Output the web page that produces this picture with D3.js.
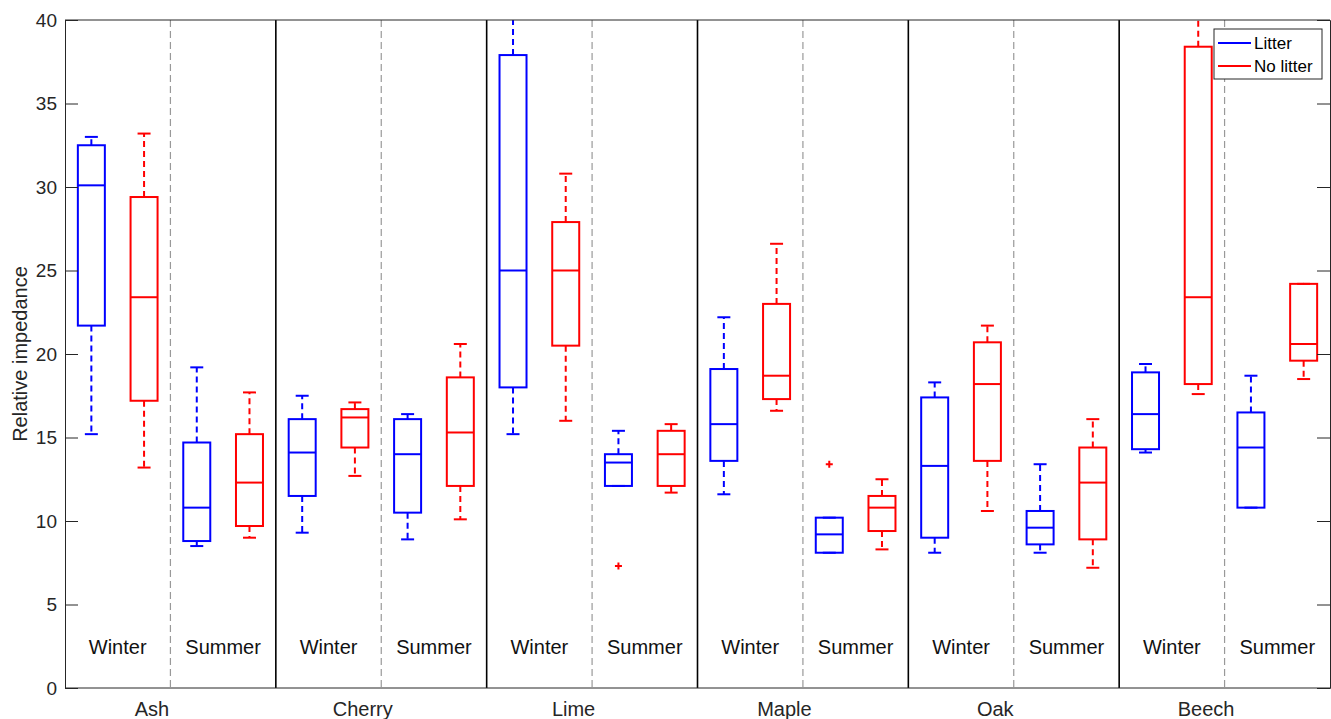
<!DOCTYPE html>
<html>
<head>
<meta charset="utf-8">
<script src="https://cdn.jsdelivr.net/npm/d3@7"></script>
<style>
  body { margin: 0; background: #fff; }
  text { font-family: "Liberation Sans", Arial, Helvetica, sans-serif; }
</style>
</head>
<body>
<svg id="chart" width="1331" height="719"></svg>
<script>
// data
const species = ['Ash', 'Cherry', 'Lime', 'Maple', 'Oak', 'Beech'];
const seasons = ['Winter', 'Summer'];
const treatments = ['Litter', 'No litter'];
const colors = ['#0000ff', '#ff0000'];
const yTicks = [0, 5, 10, 15, 20, 25, 30, 35, 40];

// box stats, order: species -> season -> treatment (Litter, No litter)
const whiskerLow = [15.2, 13.2, 8.5, 9.0,   9.3, 12.7, 8.9, 10.1,   15.2, 16.0, 12.1, 11.7,
                    11.6, 16.6, 8.1, 8.3,   8.1, 10.6, 8.1, 7.2,    14.1, 17.6, 10.8, 18.5];
const q1         = [21.7, 17.2, 8.8, 9.7,   11.5, 14.4, 10.5, 12.1, 18.0, 20.5, 12.1, 12.1,
                    13.6, 17.3, 8.1, 9.4,   9.0, 13.6, 8.6, 8.9,    14.3, 18.2, 10.8, 19.6];
const median     = [30.1, 23.4, 10.8, 12.3, 14.1, 16.2, 14.0, 15.3, 25.0, 25.0, 13.5, 14.0,
                    15.8, 18.7, 9.2, 10.8,  13.3, 18.2, 9.6, 12.3,  16.4, 23.4, 14.4, 20.6];
const q3         = [32.5, 29.4, 14.7, 15.2, 16.1, 16.7, 16.1, 18.6, 37.9, 27.9, 14.0, 15.4,
                    19.1, 23.0, 10.2, 11.5, 17.4, 20.7, 10.6, 14.4, 18.9, 38.4, 16.5, 24.2];
const whiskerHigh= [33.0, 33.2, 19.2, 17.7, 17.5, 17.1, 16.4, 20.6, 41.0, 30.8, 15.4, 15.8,
                    22.2, 26.6, 10.2, 12.5, 18.3, 21.7, 13.4, 16.1, 19.4, 41.0, 18.7, 24.2];
// [box index, value]
const outliers = [[10, 7.3], [14, 13.4]];

const svg = d3.select('#chart');
const margin = {left: 65, right: 1, top: 20, bottom: 31};
const W = 1331, H = 719;
const axisColor = '#262626';

const boxIds = d3.range(species.length * seasons.length * treatments.length);
const x = d3.scaleBand().domain(boxIds).range([margin.left, W - margin.right]).padding(0);
const y = d3.scaleLinear().domain([0, 40]).range([H - margin.bottom, margin.top]);
const step = x.bandwidth();
const boxW = 27, capW = 13;
const perGroup = seasons.length * treatments.length;

svg.append('defs').append('clipPath').attr('id', 'clip')
  .append('rect')
  .attr('x', margin.left).attr('y', margin.top)
  .attr('width', W - margin.right - margin.left)
  .attr('height', y(0) - y(40));

// season separators (dashed) and species separators (solid)
species.forEach((s, i) => {
  const gx = x(i * perGroup);
  const sx = x(i * perGroup + treatments.length);
  svg.append('line')
    .attr('x1', sx).attr('x2', sx).attr('y1', y(40)).attr('y2', y(0))
    .attr('stroke', '#999').attr('stroke-width', 1.2).attr('stroke-dasharray', '7,4');
  if (i > 0) {
    svg.append('line')
      .attr('x1', gx).attr('x2', gx).attr('y1', y(40)).attr('y2', y(0))
      .attr('stroke', '#000').attr('stroke-width', 1.6);
  }
  seasons.forEach((season, j) => {
    const cx = x(i * perGroup + j * treatments.length) + step;
    svg.append('text')
      .attr('x', cx).attr('y', 654)
      .attr('text-anchor', 'middle').attr('font-size', 20).attr('fill', '#111')
      .text(season);
  });
  // species label
  svg.append('text')
    .attr('x', sx - 18.5).attr('y', 716)
    .attr('text-anchor', 'middle').attr('font-size', 20).attr('fill', axisColor)
    .text(s);
});

// boxes
const plot = svg.append('g').attr('clip-path', 'url(#clip)');
boxIds.forEach(k => {
  const c = colors[k % treatments.length];
  const cx = x(k) + step / 2;
  const g = plot.append('g').attr('stroke', c).attr('stroke-width', 2).attr('fill', 'none');
  // whiskers
  g.append('line').attr('x1', cx).attr('x2', cx).attr('y1', y(q3[k])).attr('y2', y(whiskerHigh[k]))
    .attr('stroke-dasharray', '6,4');
  g.append('line').attr('x1', cx).attr('x2', cx).attr('y1', y(q1[k])).attr('y2', y(whiskerLow[k]))
    .attr('stroke-dasharray', '6,4');
  // caps
  [whiskerLow[k], whiskerHigh[k]].forEach(v => {
    g.append('line').attr('x1', cx - capW / 2).attr('x2', cx + capW / 2)
      .attr('y1', y(v)).attr('y2', y(v));
  });
  // box
  g.append('rect')
    .attr('x', cx - boxW / 2).attr('width', boxW)
    .attr('y', y(q3[k])).attr('height', y(q1[k]) - y(q3[k]));
  // median
  g.append('line').attr('x1', cx - boxW / 2).attr('x2', cx + boxW / 2)
    .attr('y1', y(median[k])).attr('y2', y(median[k]));
});

// outliers, red plus signs
outliers.forEach(([k, v]) => {
  const cx = x(k) + step / 2, cy = y(v);
  plot.append('path')
    .attr('d', `M${cx - 3.5},${cy}H${cx + 3.5}M${cx},${cy - 3.5}V${cy + 3.5}`)
    .attr('stroke', '#ff0000').attr('stroke-width', 2);
});

// axes
const left = svg.append('g').attr('transform', `translate(${margin.left},0)`)
  .call(d3.axisLeft(y).tickValues(yTicks).tickSize(-13).tickPadding(8));
const right = svg.append('g').attr('transform', `translate(${W - margin.right},0)`)
  .call(d3.axisRight(y).tickValues(yTicks).tickSize(-13).tickFormat(''));
[left, right].forEach(a => {
  a.select('.domain').attr('stroke', axisColor).attr('stroke-width', 1);
  a.selectAll('.tick line').attr('stroke', axisColor).attr('stroke-width', 1);
});
left.selectAll('.tick text').attr('font-size', 19).attr('fill', axisColor)
  .attr('font-family', '"Liberation Sans", Arial, sans-serif');
svg.append('line').attr('x1', margin.left).attr('x2', W - margin.right)
  .attr('y1', y(40)).attr('y2', y(40)).attr('stroke', axisColor);
svg.append('line').attr('x1', margin.left).attr('x2', W - margin.right)
  .attr('y1', y(0)).attr('y2', y(0)).attr('stroke', axisColor);

// y label
svg.append('text')
  .attr('transform', `translate(27,${(y(0) + y(40)) / 2}) rotate(-90)`)
  .attr('text-anchor', 'middle').attr('font-size', 20).attr('fill', axisColor)
  .text('Relative impedance');

// legend
const lg = svg.append('g').attr('transform', 'translate(1214,29)');
lg.append('rect').attr('width', 108).attr('height', 50)
  .attr('fill', '#fff').attr('stroke', axisColor).attr('stroke-width', 1);
treatments.forEach((t, i) => {
  const ly = 14 + i * 23;
  lg.append('line').attr('x1', 4).attr('x2', 37).attr('y1', ly).attr('y2', ly)
    .attr('stroke', colors[i]).attr('stroke-width', 2);
  lg.append('text').attr('x', 40).attr('y', ly + 6)
    .attr('font-size', 17).attr('fill', '#000').text(t);
});
</script>
</body>
</html>
